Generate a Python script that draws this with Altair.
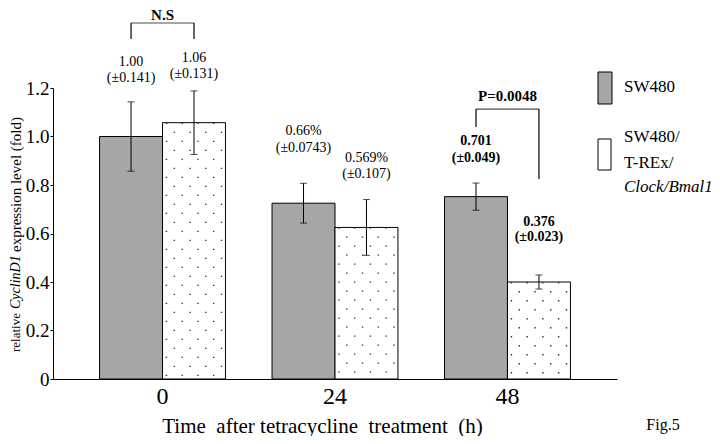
import altair as alt
import pandas as pd

FONT = "Liberation Serif"

# ---- data ----
times = ["0", "24", "48"]
series = ["SW480", "SW480/T-REx/Clock/Bmal1"]
sw480_vals = [1.00, 0.725, 0.752]
clock_vals = [1.057, 0.625, 0.400]
sw480_err = [0.143, 0.082, 0.056]
clock_err = [0.131, 0.115, 0.029]

ann_time = ["0", "0", "24", "24", "48", "48"]
ann_series = [series[0], series[1], series[0], series[1], series[0], series[1]]
ann_line1 = ["1.00", "1.06", "0.66%", "0.569%", "0.701", "0.376"]
ann_line2 = ["(\u00b10.141)", "(\u00b10.131)", "(\u00b10.0743)", "(\u00b10.107)", "(\u00b10.049)", "(\u00b10.023)"]
ann_y1 = [1.307, 1.324, 1.023, 0.911, 0.981, 0.647]
ann_y2 = [1.241, 1.258, 0.953, 0.845, 0.911, 0.586]
ann_bold = [False, False, False, False, True, True]

# significance brackets
br_time = ["0", "48"]
br_label = ["N.S", "P=0.0048"]
br_label_y = [1.503, 1.167]
br_top = [1.468, 1.113]
br_left_bottom = [1.402, 1.039]
br_right_bottom = [1.402, 0.825]

# ---- tables ----
bars = pd.DataFrame({
    "time": times * 2,
    "series": [series[0]] * 3 + [series[1]] * 3,
    "value": sw480_vals + clock_vals,
    "err": sw480_err + clock_err,
})
bars["lo"] = bars["value"] - bars["err"]
bars["hi"] = bars["value"] + bars["err"]

ann = pd.DataFrame({"time": ann_time, "series": ann_series, "l1": ann_line1,
                    "l2": ann_line2, "y1": ann_y1, "y2": ann_y2, "bold": ann_bold})

br_v = pd.DataFrame({
    "time": br_time * 2,
    "series": [series[0]] * 2 + [series[1]] * 2,
    "top": br_top * 2,
    "bottom": br_left_bottom + br_right_bottom,
})
br_h = pd.DataFrame({"time": br_time, "top": br_top, "label": br_label, "ly": br_label_y})

# dotted-fill texture for the second series: sub-columns inside each group band
N_SUB = 16
sub_cols = [f"c{i:02d}" for i in range(N_SUB)]
tex_rows = []
for t, v in zip(times, clock_vals):
    for i in range(N_SUB // 2, N_SUB):
        tex_rows.append({"time": t, "col": sub_cols[i], "value": v, "odd": i % 2 == 1})
tex = pd.DataFrame(tex_rows)

xscale = alt.Scale(domain=times, paddingInner=0.27, paddingOuter=0.27)
xoff = alt.Scale(domain=series)
yscale = alt.Scale(domain=[0, 1.2], nice=False)

X = alt.X("time:N", scale=xscale, sort=times,
          axis=alt.Axis(title="Time\u00a0 after tetracycline\u00a0 treatment\u00a0 (h)",
                        labelAngle=0, labelFontSize=24, labelPadding=5, ticks=False,
                        domainColor="black", labelColor="black", labelFont=FONT,
                        titleFont=FONT, titleFontSize=21, titleFontWeight="normal",
                        titleX=269, titleY=53, titleAlign="center",
                        titleBaseline="alphabetic", titleColor="black"))
XO = alt.XOffset("series:N", scale=xoff, sort=series)

GRAY = "#a6a6a6"
LIGHT = "#ffffff"

bar_layer = alt.Chart(bars).mark_bar(stroke="black", strokeWidth=1).encode(
    x=X,
    xOffset=XO,
    y=alt.Y("value:Q", scale=yscale,
            axis=alt.Axis(title=None, values=[0, 0.2, 0.4, 0.6, 0.8, 1.0, 1.2],
                          labelExpr="datum.value == 0 ? '0' : format(datum.value, '.1f')",
                          labelFontSize=19, labelFont=FONT, labelColor="black",
                          tickSize=3, tickColor="black", labelPadding=1,
                          domainColor="black", grid=False)),
    color=alt.Color("series:N", scale=alt.Scale(domain=series, range=[GRAY, LIGHT]),
                    legend=None),
)

def tex_layer(odd):
    return alt.Chart(tex[tex["odd"] == odd]).mark_rule(
        color="#333333", strokeWidth=1.4, strokeDash=[1.4, 16.6],
        strokeDashOffset=9 if odd else 0).encode(
        x=X,
        xOffset=alt.XOffset("col:N", scale=alt.Scale(domain=sub_cols), sort=sub_cols),
        y=alt.Y("value:Q", scale=yscale), y2=alt.datum(0.012))

err_rule = alt.Chart(bars).mark_rule(color="black", strokeWidth=1).encode(
    x=X, xOffset=XO, y=alt.Y("lo:Q", scale=yscale), y2="hi:Q")
err_top = alt.Chart(bars).mark_tick(color="black", size=7, thickness=1).encode(
    x=X, xOffset=XO, y=alt.Y("hi:Q", scale=yscale))
err_bot = alt.Chart(bars).mark_tick(color="black", size=7, thickness=1).encode(
    x=X, xOffset=XO, y=alt.Y("lo:Q", scale=yscale))

def ann_text(field, yfield, bold):
    return alt.Chart(ann[ann["bold"] == bold]).mark_text(
        font=FONT, fontSize=14, color="black", baseline="middle",
        fontWeight="bold" if bold else "normal").encode(
        x=X, xOffset=XO, y=alt.Y(f"{yfield}:Q", scale=yscale), text=f"{field}:N")

ann_layers = [ann_text("l1", "y1", False), ann_text("l2", "y2", False),
              ann_text("l1", "y1", True), ann_text("l2", "y2", True)]

br_vert = alt.Chart(br_v).mark_rule(color="black", strokeWidth=1.2).encode(
    x=X, xOffset=XO, y=alt.Y("top:Q", scale=yscale), y2="bottom:Q")
br_horiz = alt.Chart(br_h).mark_tick(color="black", size=63, thickness=1.2).encode(
    x=X, y=alt.Y("top:Q", scale=yscale))
br_text = alt.Chart(br_h).mark_text(font=FONT, fontSize=15, fontWeight="bold",
                                    color="black", baseline="middle").encode(
    x=X, y=alt.Y("ly:Q", scale=yscale), text="label:N")

# ---- y title (mixed italic) ----
one = pd.DataFrame({"k": [0]})
def ytxt(t, yv, size, italic=False):
    return alt.Chart(one).mark_text(text=t, font=FONT, fontSize=size, angle=270,
                                    align="left", baseline="middle", color="black",
                                    fontStyle="italic" if italic else "normal").encode(
        x=alt.value(-37), y=alt.value(yv))
ytitle = [ytxt("relative", 264, 13), ytxt("CyclinD1", 221, 14, True),
          ytxt("expression level (fold)", 164, 15)]

# ---- legend ----
def sw(x1, x2, y1, y2, fill):
    return alt.Chart(one).mark_rect(fill=fill, stroke="black", strokeWidth=1).encode(
        x=alt.value(x1), x2=alt.value(x2), y=alt.value(y1), y2=alt.value(y2))
def ltxt(t, xv, yv, italic=False, size=17, align="left"):
    return alt.Chart(one).mark_text(text=t, font=FONT, fontSize=size, align=align,
                                    baseline="middle", color="black",
                                    fontStyle="italic" if italic else "normal").encode(
        x=alt.value(xv), y=alt.value(yv))
legend = [sw(545, 559, -16, 16, GRAY), sw(545, 558, 51, 82, LIGHT),
          ltxt("SW480", 571, -1), ltxt("SW480/", 571, 49), ltxt("T-REx/", 571, 75),
          ltxt("Clock/Bmal1", 571, 99, italic=True),
          ltxt("Fig.5", 610, 337, size=16, align="center")]

chart = alt.layer(bar_layer, tex_layer(False), tex_layer(True), err_rule, err_top, err_bot,
                  *ann_layers, br_vert, br_horiz, br_text, *ytitle, *legend).resolve_scale(
    xOffset="independent"
).properties(
    width=564, height=291,
    autosize=alt.AutoSizeParams(type="none"),
    padding={"left": 45, "top": 80, "right": 95, "bottom": 57},
    background="white",
).configure_view(strokeWidth=0)

chart.save("out.html", embed_options={"renderer": "svg", "actions": False})
